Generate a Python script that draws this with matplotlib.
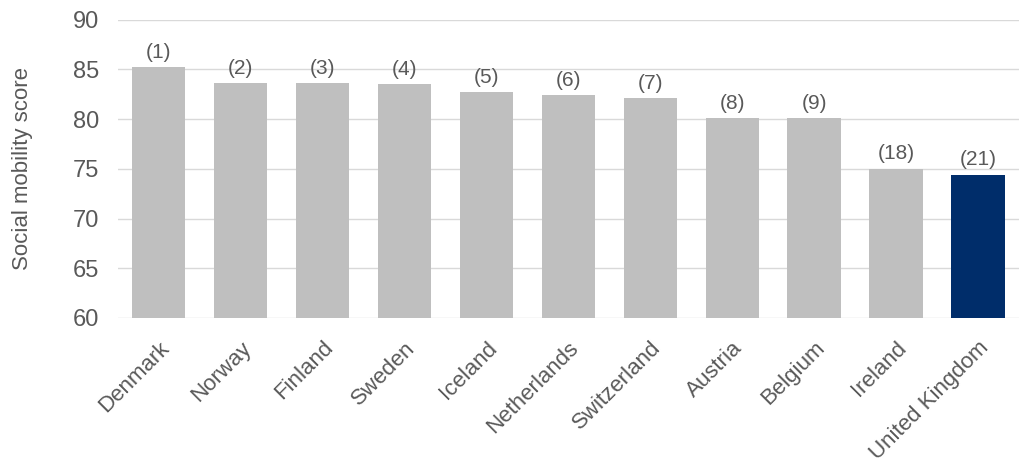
import numpy as np
import matplotlib.pyplot as plt
from matplotlib.transforms import ScaledTranslation

plt.rcParams['font.family'] = ['Liberation Sans', 'DejaVu Sans']

# Data
countries = ['Denmark', 'Norway', 'Finland', 'Sweden', 'Iceland', 'Netherlands',
             'Switzerland', 'Austria', 'Belgium', 'Ireland', 'United Kingdom']
scores = [85.2, 83.6, 83.6, 83.5, 82.7, 82.4, 82.1, 80.1, 80.1, 75.0, 74.4]
ranks = ['(1)', '(2)', '(3)', '(4)', '(5)', '(6)', '(7)', '(8)', '(9)', '(18)', '(21)']

text_col = '#595959'
colors = ['#bfbfbf'] * (len(countries) - 1) + ['#002d6a']

fig = plt.figure(figsize=(10.23, 4.71), dpi=100)
ax = fig.add_axes([0.115, 0.325, 0.881, 0.633])

x = np.arange(len(countries))
bars = ax.bar(x, scores, width=0.65, color=colors, zorder=2)

# rank labels above bars
for b, r in zip(bars, ranks):
    ax.annotate(r, (b.get_x() + b.get_width() / 2, b.get_height()),
                xytext=(0, 4), textcoords='offset points',
                ha='center', va='bottom', fontsize=15, color=text_col)

ax.set_xlim(-0.5, len(countries) - 0.5)
ax.set_ylim(60, 90)
ax.set_yticks(np.arange(60, 91, 5))
ax.set_xticks(x)
ax.set_xticklabels(countries, rotation=45, ha='right', rotation_mode='anchor',
                   fontsize=16, color=text_col)
# nudge rotated labels a little left, like the original
shift = ScaledTranslation(-6 / 100, 0, fig.dpi_scale_trans)
for lab in ax.get_xticklabels():
    lab.set_transform(lab.get_transform() + shift)
ax.tick_params(axis='y', labelsize=17, colors=text_col, length=0, pad=13)
ax.tick_params(axis='x', length=0, pad=14)

ax.yaxis.grid(True, color='#d9d9d9', linewidth=1, zorder=0)
ax.set_axisbelow(True)
for s in ax.spines.values():
    s.set_visible(False)

ax.set_ylabel('Social mobility score', fontsize=16, color=text_col)
ax.yaxis.set_label_coords(-0.094, 0.5)

fig.savefig('out.png', dpi=100)
